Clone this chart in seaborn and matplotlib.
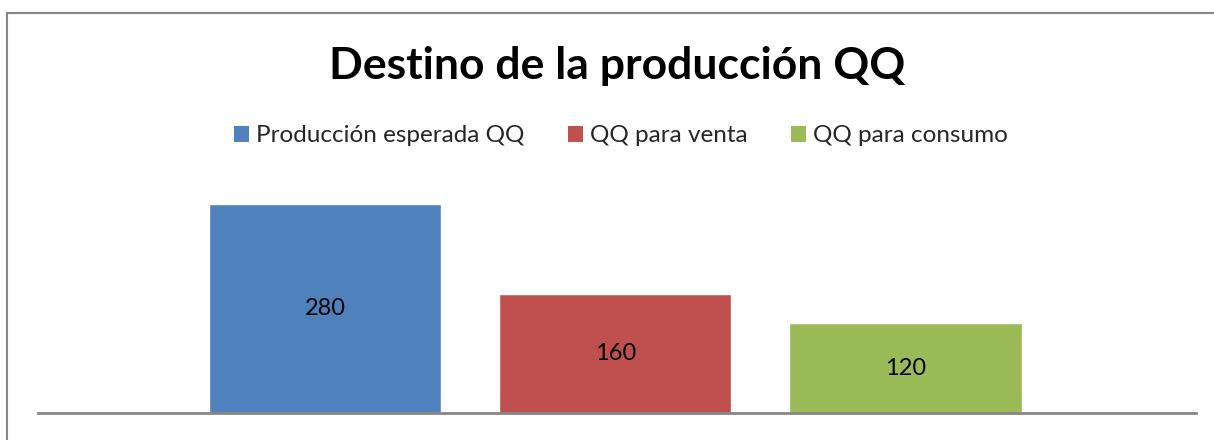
import matplotlib
matplotlib.use("Agg")
import matplotlib.pyplot as plt
import seaborn as sns
import pandas as pd
from matplotlib.patches import Rectangle, Patch

categories = ["QQ"]
series = ["Producción esperada QQ", "QQ para venta", "QQ para consumo"]
values = [280, 160, 120]
colors = ["#4F81BD", "#C0504D", "#9BBB59"]

sns.set_theme(style="white")
plt.rcParams["font.family"] = ["Lato", "DejaVu Sans"]

df = pd.DataFrame({"cat": categories * len(series), "serie": series, "valor": values})

W, H = 1214, 440
fig = plt.figure(figsize=(W / 100, H / 100), dpi=100)
ax = fig.add_axes([38 / W, (H - 413) / H, 1158 / W, 224 / H])

sns.barplot(data=df, x="cat", y="valor", hue="serie", hue_order=series,
            palette=colors, width=0.75, gap=0.2, saturation=1, legend=False, ax=ax)

ax.set_xlim(-0.497, 0.5)
ax.set_ylim(0, 300)
for c in ax.containers:
    ax.bar_label(c, label_type="center", fontsize=17, color="black")

for s in ["top", "left", "right"]:
    ax.spines[s].set_visible(False)
ax.spines["bottom"].set_color("#868686")
ax.spines["bottom"].set_linewidth(2)
ax.set_xticks([])
ax.set_yticks([])
ax.set_xlabel("")
ax.set_ylabel("")

fig.text(617 / W, 1 - 66 / H, "Destino de la producción QQ", ha="center", va="center",
         fontsize=32, fontweight="bold", color="black")

handles = [Patch(facecolor=c, edgecolor="none") for c in colors]
fig.legend(handles, series, loc="center", bbox_to_anchor=(621 / W, 1 - 136 / H),
           ncol=3, frameon=False, fontsize=17.5, handlelength=0.6, handleheight=0.6,
           handletextpad=0.3, columnspacing=1.8)

fig.patches.append(Rectangle((7 / W, -0.1), 1.2, 1 - 13 / H + 0.1, transform=fig.transFigure,
                             fill=False, edgecolor="#868686", linewidth=1.5))

fig.savefig("out.png", dpi=100)
